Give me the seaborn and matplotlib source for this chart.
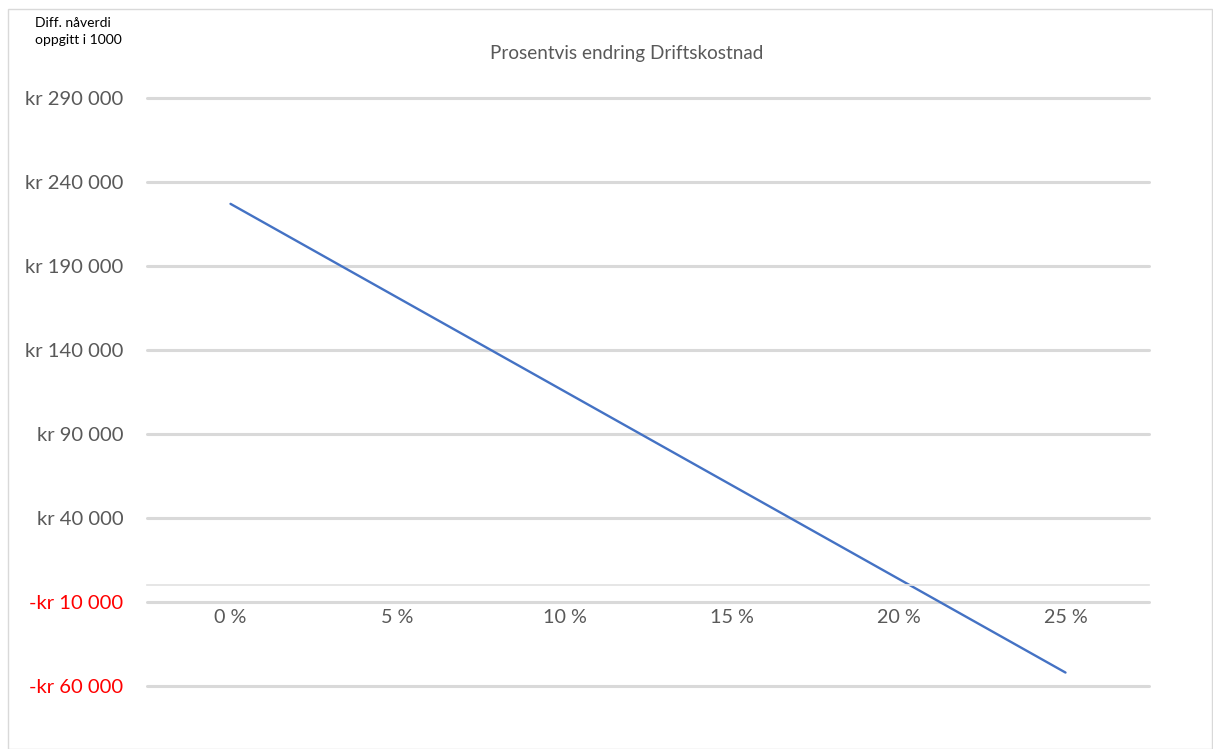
import matplotlib
matplotlib.use("Agg")
import matplotlib.pyplot as plt
import matplotlib.patches as mpatches
import seaborn as sns
import pandas as pd

# Change in operating cost (%) and resulting NPV difference (in 1000 kr)
endring = ["0 %", "5 %", "10 %", "15 %", "20 %", "25 %"]
naverdi_diff = [227000, 171200, 115400, 59600, 3800, -52000]
y_ticks = [-60000, -10000, 40000, 90000, 140000, 190000, 240000, 290000]

tittel = "Prosentvis endring Driftskostnad"
akse_tittel = "Diff. nåverdi\noppgitt i 1000"

sns.set_theme(style="white")
plt.rcParams["font.family"] = ["Lato", "DejaVu Sans"]

W, H = 1213, 749
fig = plt.figure(figsize=(W / 100, H / 100), dpi=100)
ax = fig.add_axes([147 / W, 1 - 686 / H, (1149 - 147) / W, (686 - 98) / H])

df = pd.DataFrame({"pos": range(len(endring)), "verdi": naverdi_diff})
sns.lineplot(data=df, x="pos", y="verdi", ax=ax, color="#4472C4", linewidth=1.7)

ax.set_xlim(-0.5, len(endring) - 0.5)
ax.set_ylim(y_ticks[0], y_ticks[-1])
ax.set_yticks(y_ticks)


def kr_format(v):
    s = f"{abs(v):,}".replace(",", " ")
    return ("-kr " if v < 0 else "kr ") + s


ax.set_yticklabels([kr_format(v) for v in y_ticks])
ax.set_xticks(range(len(endring)))
ax.set_xticklabels(endring)
ax.set_xlabel("")
ax.set_ylabel("")

ax.grid(axis="y", color="#d9d9d9", linewidth=2.2)
ax.grid(axis="x", visible=False)
# keep the outermost gridlines at full width at the axes edges
for gl in ax.get_ygridlines():
    gl.set_clip_on(False)
for side in ["left", "right", "top"]:
    ax.spines[side].set_visible(False)
ax.spines["bottom"].set_position(("data", 0))
ax.spines["bottom"].set_color("#e2e2e2")
ax.spines["bottom"].set_linewidth(1.2)
ax.set_axisbelow(True)

ax.tick_params(axis="x", length=0, pad=17, labelsize=14.2, labelcolor="#595959")
ax.tick_params(axis="y", length=0, pad=17, labelsize=14.6, labelcolor="#595959")
for lab, v in zip(ax.get_yticklabels(), y_ticks):
    if v < 0:
        lab.set_color("#FF0000")

fig.text(627 / W, 1 - 54 / H, tittel, ha="center", va="center",
         fontsize=13.6, color="#595959")
fig.text(35 / W, 1 - 17 / H, akse_tittel, ha="left", va="top",
         fontsize=10, color="#000000", linespacing=1.55)

# chart area frame
fig.patches.append(mpatches.Rectangle((8 / W, 0.5 / H), (W - 9.5) / W, (H - 9) / H,
                                      transform=fig.transFigure, fill=False,
                                      edgecolor="#d9d9d9", linewidth=1.0))

fig.savefig("out.png", dpi=100, facecolor="white")
